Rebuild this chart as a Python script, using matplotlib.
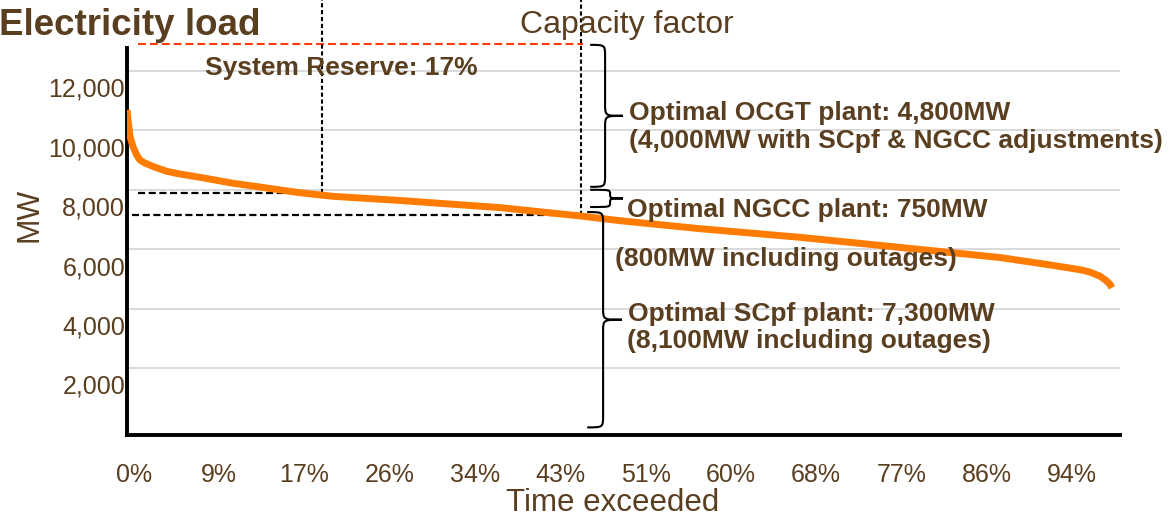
import numpy as np
import matplotlib
matplotlib.use('Agg')
import matplotlib.pyplot as plt
from matplotlib.path import Path
from matplotlib.patches import PathPatch
from matplotlib.transforms import ScaledTranslation

plt.rcParams['font.family'] = ['Liberation Sans', 'DejaVu Sans']

brown = '#5a3e20'
orange = '#ff7c00'

# load duration curve: % of time exceeded vs MW
time_pct = [-0.70, -0.60, -0.40, -0.10, 0.30, 0.60, 1.10, 2.11, 3.31, 4.62,
            6.63, 9.94, 11.65, 13.35, 16.67, 19.98, 26.71, 36.75, 44.78,
            48.80, 56.83, 66.87, 76.91, 86.95, 91.97, 94.98, 95.98, 96.99,
            97.59, 97.99, 98.19]
load_mw = [10690, 10350, 9800, 9450, 9150, 9000, 8900, 8760, 8620, 8530,
           8420, 8220, 8140, 8060, 7900, 7780, 7640, 7400, 7120,
           6960, 6690, 6400, 6060, 5720, 5470, 5310, 5230, 5090,
           4950, 4820, 4700]

ytick_vals = [2000, 4000, 6000, 8000, 10000, 12000]
xtick_hours = np.arange(0, 8760, 750)
xtick_labels = ['0%', '9%', '17%', '26%', '34%', '43%', '51%', '60%', '68%',
                '77%', '86%', '94%']

# reference lines
reserve_mw = 12900          # peak + reserve (red dashed)
ngcc_top_mw = 7880          # upper black dashed
scpf_top_mw = 7160          # lower black dashed
reserve_time = 18.9         # vertical dotted lines (% time)
cf_time = 44.9

# braces: top, bottom (MW)
brace_top = [12880, 8000, 7250]
brace_bot = [8100, 7420, 0]
brace_x = [(45.8, 47.3, 49.1), (45.8, 47.8, 49.1), (45.5, 47.1, 49.0)]

W, H = 1171, 517
fig = plt.figure(figsize=(W / 100, H / 100), dpi=100)
ax = fig.add_axes([127 / W, 1 - 435 / H, (1120 - 127) / W, (435 - 48) / H])


def fpos(x, y):
    return x / W, 1 - y / H


ax.set_xlim(-0.703, 99.0)
ax.set_ylim(-256, 12774)

ax.plot(time_pct, load_mw, color=orange, lw=5, solid_capstyle='butt',
        solid_joinstyle='round', zorder=3)

# grid
ax.set_yticks(ytick_vals)
ax.set_yticklabels([])
ax.yaxis.grid(True, color='#d4d4d4', lw=1.2)
ax.set_axisbelow(True)
ax.tick_params(axis='y', length=0)

# y labels sit a bit below their grid lines, as in the original
off = ScaledTranslation(0, -0.19, fig.dpi_scale_trans)
for v in ytick_vals:
    ax.text(-0.002, v, f'{v:,}', transform=ax.get_yaxis_transform() + off,
            ha='right', va='center', fontsize=18, color=brown)

ax.set_xticks(xtick_hours / 8760 * 100)
ax.set_xticklabels(xtick_labels, fontsize=18, color=brown)
ax.tick_params(axis='x', length=0, pad=20)

for s in ['top', 'right']:
    ax.spines[s].set_visible(False)
for s in ['left', 'bottom']:
    ax.spines[s].set_linewidth(2.8)
    ax.spines[s].set_color('black')

# dashed reference lines
ax.plot([0.4, 45.1], [reserve_mw, reserve_mw], color='#ff3b0f', lw=1.5,
        ls=(0, (3.8, 1.9)), clip_on=False)
ax.plot([0.4, reserve_time], [ngcc_top_mw, ngcc_top_mw], color='black', lw=1.6,
        ls=(0, (3.2, 1.6)), clip_on=False)
ax.plot([-0.2, cf_time], [scpf_top_mw, scpf_top_mw], color='black', lw=1.6,
        ls=(0, (3.2, 1.6)), clip_on=False)
ytop = ax.get_ylim()[1] * 1.2
ax.plot([reserve_time, reserve_time], [ngcc_top_mw, ytop], color='black', lw=1.5,
        ls=(0, (2, 1.3)), clip_on=False)
ax.plot([cf_time, cf_time], [scpf_top_mw, ytop], color='black', lw=1.5,
        ls=(0, (2, 1.3)), clip_on=False)


def brace(ax, xl, xv, xt, y0, y1):
    r = min(400, (y0 - y1) / 4)
    ym = (y0 + y1) / 2
    verts = [(xl, y0), (xv, y0), (xv, y0), (xv, y0 - r),
             (xv, ym + r),
             (xv, ym), (xv, ym), (xt, ym),
             (xv, ym), (xv, ym), (xv, ym - r),
             (xv, y1 + r),
             (xv, y1), (xv, y1), (xl, y1)]
    codes = [Path.MOVETO, Path.CURVE4, Path.CURVE4, Path.CURVE4,
             Path.LINETO,
             Path.CURVE4, Path.CURVE4, Path.CURVE4,
             Path.CURVE4, Path.CURVE4, Path.CURVE4,
             Path.LINETO,
             Path.CURVE4, Path.CURVE4, Path.CURVE4]
    ax.add_patch(PathPatch(Path(verts, codes), fc='none', ec='black', lw=1.5,
                           clip_on=False, zorder=4))


for (xl, xv, xt), t, b in zip(brace_x, brace_top, brace_bot):
    brace(ax, xl, xv, xt, t, b)

# texts
fig.text(*fpos(-1, 35), 'Electricity load', fontsize=26.5, fontweight='bold',
         color=brown, va='baseline')
fig.text(*fpos(520, 33), 'Capacity factor', fontsize=23, color=brown, va='baseline')
fig.text(*fpos(205, 75), 'System Reserve: 17%', fontsize=19, fontweight='bold',
         color=brown, va='baseline')
notes = [(629, 120, 'Optimal OCGT plant: 4,800MW'),
         (629, 148, '(4,000MW with SCpf & NGCC adjustments)'),
         (627, 217, 'Optimal NGCC plant: 750MW'),
         (615, 266, '(800MW including outages)'),
         (628, 321, 'Optimal SCpf plant: 7,300MW'),
         (627, 348, '(8,100MW including outages)')]
for x, y, s in notes:
    fig.text(*fpos(x, y), s, fontsize=19, fontweight='bold', color=brown,
             va='baseline', zorder=5)

fig.text(*fpos(30, 215), 'MW', rotation=90, fontsize=22, color=brown,
         ha='center', va='center')
fig.text(*fpos(613, 511), 'Time exceeded', fontsize=22.5, color=brown,
         ha='center', va='baseline')

fig.savefig('out.png', dpi=100)
